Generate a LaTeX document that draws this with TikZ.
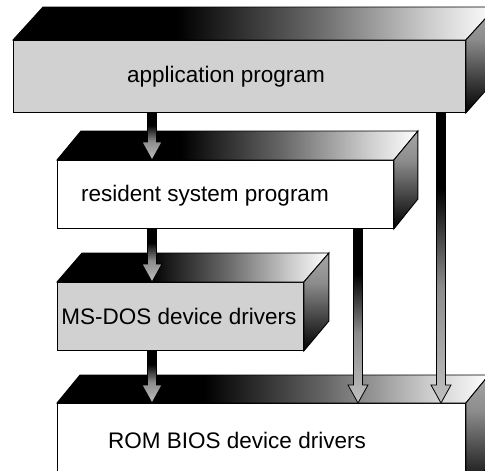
\documentclass[tikz,border=0pt]{standalone}
\usepackage{fontspec}
\setmainfont{Liberation Sans}
\usetikzlibrary{calc}
\pgfdeclarehorizontalshading{topface}{100bp}{color(0bp)=(black); color(25bp)=(black); color(42bp)=(black); color(56bp)=(black!60); color(68bp)=(black!20); color(75bp)=(white); color(100bp)=(white)}
\pgfdeclareverticalshading{sideface}{100bp}{color(0bp)=(black); color(25bp)=(black); color(38bp)=(black!80); color(60bp)=(black!45); color(75bp)=(black!35); color(100bp)=(black!35)}
\pgfdeclareverticalshading{arrowshade}{100bp}{color(0bp)=(black!25); color(25bp)=(black!25); color(45bp)=(black!45); color(62bp)=(black); color(100bp)=(black)}
\tikzset{
  frontface/.style={draw=black, line width=0.9pt, rectangle, inner sep=0pt, anchor=north west},
  stipple/.style={fill=black!18},
  plainface/.style={fill=white},
  topf/.style={draw=black, line width=0.9pt, shade, shading=topface},
  sidef/.style={draw=black, line width=0.9pt, shade, shading=sideface},
  lbl/.style={font=\fontsize{22.5}{27}\selectfont, inner sep=0pt},
  arrowbody/.style={draw=black, line width=0.8pt, shade, shading=arrowshade},
}
\newcommand\fatarrow[2]{%
  \path[arrowbody] let \p1=#1, \p2=#2 in
    (\x1-4.5pt,\y1) -- (\x1-4.5pt,\y2+18pt) -- (\x1-10pt,\y2+18pt) -- (\x1,\y2)
    -- (\x1+10pt,\y2+18pt) -- (\x1+4.5pt,\y2+18pt) -- (\x1+4.5pt,\y1) -- cycle;}
\begin{document}
\begin{tikzpicture}[x=1pt, y=-1pt]
\useasboundingbox (0,0) rectangle (485,471);
\clip (0,0) rectangle (485,471);
\fill[white] (0,0) rectangle (485,471);

% box 1
\node[frontface, stipple, minimum width=452pt, minimum height=72pt] (b1) at (13,40) {};
\draw[topf] (b1.north west) -- ++(30,-33) -- ($(b1.north east)+(30,-33)$) -- (b1.north east) -- cycle;
\draw[sidef] (b1.north east) -- ++(30,-33) -- ++(0,72) -- (b1.south east) -- cycle;
\node[lbl] (t1) at (226,77) {application program};

% box 2
\node[frontface, plainface, minimum width=336pt, minimum height=68pt] (b2) at (57,160) {};
\draw[topf] (b2.north west) -- ++(24,-29) -- ($(b2.north east)+(24,-29)$) -- (b2.north east) -- cycle;
\draw[sidef] (b2.north east) -- ++(24,-29) -- ++(0,68) -- (b2.south east) -- cycle;
\node[lbl] (t2) at (205,196) {resident system program};

% box 3
\node[frontface, stipple, minimum width=246pt, minimum height=68pt] (b3) at (57,282) {};
\draw[topf] (b3.north west) -- ++(25,-29) -- ($(b3.north east)+(25,-29)$) -- (b3.north east) -- cycle;
\draw[sidef] (b3.north east) -- ++(25,-29) -- ++(0,68) -- (b3.south east) -- cycle;
\node[lbl] (t3) at (179,316) {MS-DOS device drivers};

% box 4
\node[frontface, plainface, minimum width=408pt, minimum height=90pt] (b4) at (57,403) {};
\draw[topf] (b4.north west) -- ++(23,-28) -- ($(b4.north east)+(23,-28)$) -- (b4.north east) -- cycle;
\draw[sidef] (b4.north east) -- ++(23,-28) -- ++(0,90) -- (b4.south east) -- cycle;
\node[lbl] (t4) at (237,440) {ROM BIOS device drivers};

% arrows
\coordinate (xa) at (152,0);
\coordinate (xb) at (358,0);
\coordinate (xc) at (441,0);
\fatarrow{(b1.south -| xa)}{(b2.north -| xa)}
\fatarrow{(b2.south -| xa)}{(b3.north -| xa)}
\fatarrow{(b3.south -| xa)}{(b4.north -| xa)}
\fatarrow{(b2.south -| xb)}{(b4.north -| xb)}
\fatarrow{(b1.south -| xc)}{(b4.north -| xc)}
\end{tikzpicture}
\end{document}
